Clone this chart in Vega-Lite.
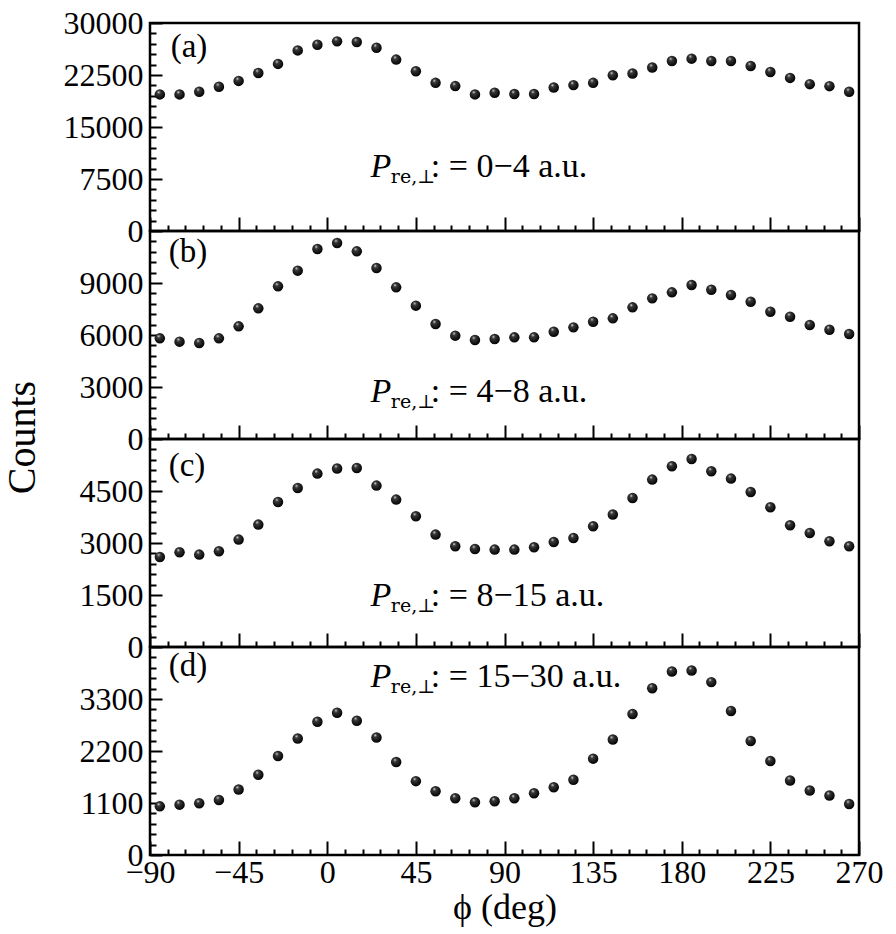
{
"$schema": "https://vega.github.io/schema/vega-lite/v6.json",
"padding": {"left": 0, "top": 5, "right": 5, "bottom": 5},
"bounds": "flush",
"spacing": 0,
"config": {
  "font": "Liberation Serif",
  "view": {"stroke": "black", "strokeWidth": 2.5},
  "axis": {"domain": false, "grid": false, "tickColor": "black", "tickWidth": 2, "labelFont": "Liberation Serif", "labelFontSize": 32, "labelColor": "black", "titleFont": "Liberation Serif", "titleColor": "black", "titleFontWeight": "normal", "labelFlush": false, "labelOverlap": false},
  "text": {"font": "Liberation Serif", "color": "black"}
},
"datasets": {
"counts": [
{"panel":"a","phi":-85,"counts":19700},{"panel":"a","phi":-75,"counts":19700},{"panel":"a","phi":-65,"counts":20080},{"panel":"a","phi":-55,"counts":20800},{"panel":"a","phi":-45,"counts":21650},{"panel":"a","phi":-35,"counts":22800},{"panel":"a","phi":-25,"counts":24100},{"panel":"a","phi":-15,"counts":26050},{"panel":"a","phi":-5,"counts":26870},{"panel":"a","phi":5,"counts":27350},{"panel":"a","phi":15,"counts":27250},{"panel":"a","phi":25,"counts":26440},{"panel":"a","phi":35,"counts":24720},{"panel":"a","phi":45,"counts":23040},{"panel":"a","phi":55,"counts":21370},{"panel":"a","phi":65,"counts":20900},{"panel":"a","phi":75,"counts":19700},{"panel":"a","phi":85,"counts":19940},{"panel":"a","phi":95,"counts":19750},{"panel":"a","phi":105,"counts":19750},{"panel":"a","phi":115,"counts":20700},{"panel":"a","phi":125,"counts":21040},{"panel":"a","phi":135,"counts":21370},{"panel":"a","phi":145,"counts":22470},{"panel":"a","phi":155,"counts":22710},{"panel":"a","phi":165,"counts":23570},{"panel":"a","phi":175,"counts":24520},{"panel":"a","phi":185,"counts":24860},{"panel":"a","phi":195,"counts":24520},{"panel":"a","phi":205,"counts":24520},{"panel":"a","phi":215,"counts":23800},{"panel":"a","phi":225,"counts":22940},{"panel":"a","phi":235,"counts":22080},{"panel":"a","phi":245,"counts":21180},{"panel":"a","phi":255,"counts":20890},{"panel":"a","phi":265,"counts":20080},
{"panel":"b","phi":-85,"counts":5806},{"panel":"b","phi":-75,"counts":5616},{"panel":"b","phi":-65,"counts":5540},{"panel":"b","phi":-55,"counts":5806},{"panel":"b","phi":-45,"counts":6500},{"panel":"b","phi":-35,"counts":7537},{"panel":"b","phi":-25,"counts":8807},{"panel":"b","phi":-15,"counts":9713},{"panel":"b","phi":-5,"counts":10963},{"panel":"b","phi":5,"counts":11310},{"panel":"b","phi":15,"counts":10826},{"panel":"b","phi":25,"counts":9866},{"panel":"b","phi":35,"counts":8750},{"panel":"b","phi":45,"counts":7693},{"panel":"b","phi":55,"counts":6636},{"panel":"b","phi":65,"counts":5962},{"panel":"b","phi":75,"counts":5712},{"panel":"b","phi":85,"counts":5770},{"panel":"b","phi":95,"counts":5864},{"panel":"b","phi":105,"counts":5864},{"panel":"b","phi":115,"counts":6191},{"panel":"b","phi":125,"counts":6440},{"panel":"b","phi":135,"counts":6768},{"panel":"b","phi":145,"counts":6960},{"panel":"b","phi":155,"counts":7595},{"panel":"b","phi":165,"counts":8113},{"panel":"b","phi":175,"counts":8460},{"panel":"b","phi":185,"counts":8886},{"panel":"b","phi":195,"counts":8615},{"panel":"b","phi":205,"counts":8309},{"panel":"b","phi":215,"counts":7922},{"panel":"b","phi":225,"counts":7345},{"panel":"b","phi":235,"counts":7057},{"panel":"b","phi":245,"counts":6578},{"panel":"b","phi":255,"counts":6307},{"panel":"b","phi":265,"counts":6058},
{"panel":"c","phi":-85,"counts":2597},{"panel":"c","phi":-75,"counts":2732},{"panel":"c","phi":-65,"counts":2665},{"panel":"c","phi":-55,"counts":2761},{"panel":"c","phi":-45,"counts":3098},{"panel":"c","phi":-35,"counts":3531},{"panel":"c","phi":-25,"counts":4183},{"panel":"c","phi":-15,"counts":4587},{"panel":"c","phi":-5,"counts":5002},{"panel":"c","phi":5,"counts":5147},{"panel":"c","phi":15,"counts":5164},{"panel":"c","phi":25,"counts":4656},{"panel":"c","phi":35,"counts":4252},{"panel":"c","phi":45,"counts":3771},{"panel":"c","phi":55,"counts":3242},{"panel":"c","phi":65,"counts":2905},{"panel":"c","phi":75,"counts":2827},{"panel":"c","phi":85,"counts":2810},{"panel":"c","phi":95,"counts":2810},{"panel":"c","phi":105,"counts":2876},{"panel":"c","phi":115,"counts":3029},{"panel":"c","phi":125,"counts":3145},{"panel":"c","phi":135,"counts":3482},{"panel":"c","phi":145,"counts":3820},{"panel":"c","phi":155,"counts":4299},{"panel":"c","phi":165,"counts":4829},{"panel":"c","phi":175,"counts":5213},{"panel":"c","phi":185,"counts":5424},{"panel":"c","phi":195,"counts":5069},{"panel":"c","phi":205,"counts":4858},{"panel":"c","phi":215,"counts":4472},{"panel":"c","phi":225,"counts":4030},{"panel":"c","phi":235,"counts":3511},{"panel":"c","phi":245,"counts":3289},{"panel":"c","phi":255,"counts":3049},{"panel":"c","phi":265,"counts":2905},
{"panel":"d","phi":-85,"counts":1029},{"panel":"d","phi":-75,"counts":1065},{"panel":"d","phi":-65,"counts":1093},{"panel":"d","phi":-55,"counts":1165},{"panel":"d","phi":-45,"counts":1385},{"panel":"d","phi":-35,"counts":1697},{"panel":"d","phi":-25,"counts":2094},{"panel":"d","phi":-15,"counts":2464},{"panel":"d","phi":-5,"counts":2818},{"panel":"d","phi":5,"counts":3010},{"panel":"d","phi":15,"counts":2840},{"panel":"d","phi":25,"counts":2486},{"panel":"d","phi":35,"counts":1966},{"panel":"d","phi":45,"counts":1562},{"panel":"d","phi":55,"counts":1349},{"panel":"d","phi":65,"counts":1200},{"panel":"d","phi":75,"counts":1115},{"panel":"d","phi":85,"counts":1136},{"panel":"d","phi":95,"counts":1200},{"panel":"d","phi":105,"counts":1306},{"panel":"d","phi":115,"counts":1434},{"panel":"d","phi":125,"counts":1591},{"panel":"d","phi":135,"counts":2038},{"panel":"d","phi":145,"counts":2443},{"panel":"d","phi":155,"counts":2982},{"panel":"d","phi":165,"counts":3529},{"panel":"d","phi":175,"counts":3883},{"panel":"d","phi":185,"counts":3904},{"panel":"d","phi":195,"counts":3657},{"panel":"d","phi":205,"counts":3046},{"panel":"d","phi":215,"counts":2413},{"panel":"d","phi":225,"counts":1987},{"panel":"d","phi":235,"counts":1576},{"panel":"d","phi":245,"counts":1363},{"panel":"d","phi":255,"counts":1257},{"panel":"d","phi":265,"counts":1080}
]
},
"vconcat": [
{
 "width": 709, "height": 208,
 "layer": [
  {"data": {"name": "counts"}, "transform": [{"filter": "datum.panel === 'a'"}],
   "mark": {"type": "circle", "size": 110, "opacity": 1, "color": {"gradient": "radial", "x1": 0.38, "y1": 0.28, "r1": 0, "x2": 0.42, "y2": 0.4, "r2": 0.62, "stops": [{"offset": 0, "color": "#f0f0f0"}, {"offset": 0.25, "color": "#3a3a3a"}, {"offset": 1, "color": "#000000"}]}},
   "encoding": {
    "x": {"field": "phi", "type": "quantitative", "scale": {"domain": [-90, 270], "nice": false, "zero": false}, "axis": {"orient": "bottom", "values": [-90,-45,0,45,90,135,180,225,270], "tickSize": -14, "labels": false, "title": null}},
    "y": {"field": "counts", "type": "quantitative", "scale": {"domain": [0, 30000], "nice": false}, "axis": {"orient": "left", "values": [0,7500,15000,22500,30000], "format": "d", "tickSize": -12, "labelPadding": 19, "title": null}}
   }},
  {"data": {"name": "counts"}, "transform": [{"filter": "datum.panel === 'a'"}],
   "mark": {"type": "circle", "opacity": 0},
   "encoding": {
    "x": {"field": "phi", "type": "quantitative", "axis": {"orient": "bottom", "values": [-81,-72,-63,-54,-36,-27,-18,-9,9,18,27,36,54,63,72,81,99,108,117,126,144,153,162,171,189,198,207,216,234,243,252,261], "tickSize": -6, "labels": false, "title": null}},
    "y": {"field": "counts", "type": "quantitative", "axis": {"orient": "left", "values": [1500,3000,4500,6000,9000,10500,12000,13500,16500,18000,19500,21000,24000,25500,27000,28500], "tickSize": -6, "labels": false, "title": null}}
   }},
  {"data": {"values": [{"t": "(a)"}]}, "mark": {"type": "text", "align": "left", "baseline": "alphabetic", "fontSize": 33},
   "encoding": {"x": {"datum": -79.5, "type": "quantitative", "axis": null}, "y": {"datum": 25100, "type": "quantitative", "axis": null}, "text": {"field": "t"}}},
  {"data": {"values": [{"t": "P"}]}, "mark": {"type": "text", "align": "left", "baseline": "alphabetic", "fontSize": 34, "fontStyle": "italic"},
   "encoding": {"x": {"datum": 22, "type": "quantitative", "axis": null}, "y": {"datum": 7844, "type": "quantitative", "axis": null}, "text": {"field": "t"}}},
  {"data": {"values": [{"t": "re,⊥"}]}, "mark": {"type": "text", "align": "left", "baseline": "alphabetic", "fontSize": 19, "font": "DejaVu Serif"},
   "encoding": {"x": {"datum": 32.3, "type": "quantitative", "axis": null}, "y": {"datum": 6984, "type": "quantitative", "axis": null}, "text": {"field": "t"}}},
  {"data": {"values": [{"t": ": = 0−4  a.u."}]}, "mark": {"type": "text", "align": "left", "baseline": "alphabetic", "fontSize": 34},
   "encoding": {"x": {"datum": 52.6, "type": "quantitative", "axis": null}, "y": {"datum": 7844, "type": "quantitative", "axis": null}, "text": {"field": "t"}}}
 ],
 "resolve": {"axis": {"x": "independent", "y": "independent"}}
},
{
 "width": 709, "height": 208,
 "layer": [
  {"data": {"name": "counts"}, "transform": [{"filter": "datum.panel === 'b'"}],
   "mark": {"type": "circle", "size": 110, "opacity": 1, "color": {"gradient": "radial", "x1": 0.38, "y1": 0.28, "r1": 0, "x2": 0.42, "y2": 0.4, "r2": 0.62, "stops": [{"offset": 0, "color": "#f0f0f0"}, {"offset": 0.25, "color": "#3a3a3a"}, {"offset": 1, "color": "#000000"}]}},
   "encoding": {
    "x": {"field": "phi", "type": "quantitative", "scale": {"domain": [-90, 270], "nice": false, "zero": false}, "axis": {"orient": "bottom", "values": [-90,-45,0,45,90,135,180,225,270], "tickSize": -14, "labels": false, "title": null}},
    "y": {"field": "counts", "type": "quantitative", "scale": {"domain": [0, 12000], "nice": false}, "axis": {"orient": "left", "values": [0,3000,6000,9000], "format": "d", "tickSize": -12, "labelPadding": 19, "title": "Counts", "titleFontSize": 40, "titleX": -116, "titleY": 206, "titleAngle": -90, "titleBaseline": "alphabetic", "titleAlign": "center"}}
   }},
  {"data": {"name": "counts"}, "transform": [{"filter": "datum.panel === 'b'"}],
   "mark": {"type": "circle", "opacity": 0},
   "encoding": {
    "x": {"field": "phi", "type": "quantitative", "axis": {"orient": "bottom", "values": [-81,-72,-63,-54,-36,-27,-18,-9,9,18,27,36,54,63,72,81,99,108,117,126,144,153,162,171,189,198,207,216,234,243,252,261], "tickSize": -6, "labels": false, "title": null}},
    "y": {"field": "counts", "type": "quantitative", "axis": {"orient": "left", "values": [600,1200,1800,2400,3600,4200,4800,5400,6600,7200,7800,8400,9600,10200,10800,11400], "tickSize": -6, "labels": false, "title": null}}
   }},
  {"data": {"values": [{"t": "(b)"}]}, "mark": {"type": "text", "align": "left", "baseline": "alphabetic", "fontSize": 33},
   "encoding": {"x": {"datum": -80.5, "type": "quantitative", "axis": null}, "y": {"datum": 10190, "type": "quantitative", "axis": null}, "text": {"field": "t"}}},
  {"data": {"values": [{"t": "P"}]}, "mark": {"type": "text", "align": "left", "baseline": "alphabetic", "fontSize": 34, "fontStyle": "italic"},
   "encoding": {"x": {"datum": 22, "type": "quantitative", "axis": null}, "y": {"datum": 2152, "type": "quantitative", "axis": null}, "text": {"field": "t"}}},
  {"data": {"values": [{"t": "re,⊥"}]}, "mark": {"type": "text", "align": "left", "baseline": "alphabetic", "fontSize": 19, "font": "DejaVu Serif"},
   "encoding": {"x": {"datum": 32.3, "type": "quantitative", "axis": null}, "y": {"datum": 1806, "type": "quantitative", "axis": null}, "text": {"field": "t"}}},
  {"data": {"values": [{"t": ": = 4−8  a.u."}]}, "mark": {"type": "text", "align": "left", "baseline": "alphabetic", "fontSize": 34},
   "encoding": {"x": {"datum": 52.6, "type": "quantitative", "axis": null}, "y": {"datum": 2152, "type": "quantitative", "axis": null}, "text": {"field": "t"}}}
 ],
 "resolve": {"axis": {"x": "independent", "y": "independent"}}
},
{
 "width": 709, "height": 208,
 "layer": [
  {"data": {"name": "counts"}, "transform": [{"filter": "datum.panel === 'c'"}],
   "mark": {"type": "circle", "size": 110, "opacity": 1, "color": {"gradient": "radial", "x1": 0.38, "y1": 0.28, "r1": 0, "x2": 0.42, "y2": 0.4, "r2": 0.62, "stops": [{"offset": 0, "color": "#f0f0f0"}, {"offset": 0.25, "color": "#3a3a3a"}, {"offset": 1, "color": "#000000"}]}},
   "encoding": {
    "x": {"field": "phi", "type": "quantitative", "scale": {"domain": [-90, 270], "nice": false, "zero": false}, "axis": {"orient": "bottom", "values": [-90,-45,0,45,90,135,180,225,270], "tickSize": -14, "labels": false, "title": null}},
    "y": {"field": "counts", "type": "quantitative", "scale": {"domain": [0, 6000], "nice": false}, "axis": {"orient": "left", "values": [0,1500,3000,4500], "format": "d", "tickSize": -12, "labelPadding": 19, "title": null}}
   }},
  {"data": {"name": "counts"}, "transform": [{"filter": "datum.panel === 'c'"}],
   "mark": {"type": "circle", "opacity": 0},
   "encoding": {
    "x": {"field": "phi", "type": "quantitative", "axis": {"orient": "bottom", "values": [-81,-72,-63,-54,-36,-27,-18,-9,9,18,27,36,54,63,72,81,99,108,117,126,144,153,162,171,189,198,207,216,234,243,252,261], "tickSize": -6, "labels": false, "title": null}},
    "y": {"field": "counts", "type": "quantitative", "axis": {"orient": "left", "values": [300,600,900,1200,1800,2100,2400,2700,3300,3600,3900,4200,4800,5100,5400,5700], "tickSize": -6, "labels": false, "title": null}}
   }},
  {"data": {"values": [{"t": "(c)"}]}, "mark": {"type": "text", "align": "left", "baseline": "alphabetic", "fontSize": 33},
   "encoding": {"x": {"datum": -80.5, "type": "quantitative", "axis": null}, "y": {"datum": 4945, "type": "quantitative", "axis": null}, "text": {"field": "t"}}},
  {"data": {"values": [{"t": "P"}]}, "mark": {"type": "text", "align": "left", "baseline": "alphabetic", "fontSize": 34, "fontStyle": "italic"},
   "encoding": {"x": {"datum": 22, "type": "quantitative", "axis": null}, "y": {"datum": 1174, "type": "quantitative", "axis": null}, "text": {"field": "t"}}},
  {"data": {"values": [{"t": "re,⊥"}]}, "mark": {"type": "text", "align": "left", "baseline": "alphabetic", "fontSize": 19, "font": "DejaVu Serif"},
   "encoding": {"x": {"datum": 32.3, "type": "quantitative", "axis": null}, "y": {"datum": 1001, "type": "quantitative", "axis": null}, "text": {"field": "t"}}},
  {"data": {"values": [{"t": ": = 8−15  a.u."}]}, "mark": {"type": "text", "align": "left", "baseline": "alphabetic", "fontSize": 34},
   "encoding": {"x": {"datum": 52.6, "type": "quantitative", "axis": null}, "y": {"datum": 1174, "type": "quantitative", "axis": null}, "text": {"field": "t"}}}
 ],
 "resolve": {"axis": {"x": "independent", "y": "independent"}}
},
{
 "width": 709, "height": 208,
 "layer": [
  {"data": {"name": "counts"}, "transform": [{"filter": "datum.panel === 'd'"}],
   "mark": {"type": "circle", "size": 110, "opacity": 1, "color": {"gradient": "radial", "x1": 0.38, "y1": 0.28, "r1": 0, "x2": 0.42, "y2": 0.4, "r2": 0.62, "stops": [{"offset": 0, "color": "#f0f0f0"}, {"offset": 0.25, "color": "#3a3a3a"}, {"offset": 1, "color": "#000000"}]}},
   "encoding": {
    "x": {"field": "phi", "type": "quantitative", "scale": {"domain": [-90, 270], "nice": false, "zero": false}, "axis": {"orient": "bottom", "values": [-90,-45,0,45,90,135,180,225,270], "format": "d", "tickSize": -14, "labelPadding": 16, "title": "ϕ  (deg)", "titleFontSize": 36, "titlePadding": 2}},
    "y": {"field": "counts", "type": "quantitative", "scale": {"domain": [0, 4400], "nice": false}, "axis": {"orient": "left", "values": [0,1100,2200,3300], "format": "d", "tickSize": -12, "labelPadding": 19, "title": null}}
   }},
  {"data": {"name": "counts"}, "transform": [{"filter": "datum.panel === 'd'"}],
   "mark": {"type": "circle", "opacity": 0},
   "encoding": {
    "x": {"field": "phi", "type": "quantitative", "axis": {"orient": "bottom", "values": [-81,-72,-63,-54,-36,-27,-18,-9,9,18,27,36,54,63,72,81,99,108,117,126,144,153,162,171,189,198,207,216,234,243,252,261], "tickSize": -6, "labels": false, "title": null}},
    "y": {"field": "counts", "type": "quantitative", "axis": {"orient": "left", "values": [220,440,660,880,1320,1540,1760,1980,2420,2640,2860,3080,3520,3740,3960,4180], "tickSize": -6, "labels": false, "title": null}}
   }},
  {"data": {"values": [{"t": "(d)"}]}, "mark": {"type": "text", "align": "left", "baseline": "alphabetic", "fontSize": 33},
   "encoding": {"x": {"datum": -80.5, "type": "quantitative", "axis": null}, "y": {"datum": 3777, "type": "quantitative", "axis": null}, "text": {"field": "t"}}},
  {"data": {"values": [{"t": "P"}]}, "mark": {"type": "text", "align": "left", "baseline": "alphabetic", "fontSize": 34, "fontStyle": "italic"},
   "encoding": {"x": {"datum": 22, "type": "quantitative", "axis": null}, "y": {"datum": 3563, "type": "quantitative", "axis": null}, "text": {"field": "t"}}},
  {"data": {"values": [{"t": "re,⊥"}]}, "mark": {"type": "text", "align": "left", "baseline": "alphabetic", "fontSize": 19, "font": "DejaVu Serif"},
   "encoding": {"x": {"datum": 32.3, "type": "quantitative", "axis": null}, "y": {"datum": 3436, "type": "quantitative", "axis": null}, "text": {"field": "t"}}},
  {"data": {"values": [{"t": ": = 15−30  a.u."}]}, "mark": {"type": "text", "align": "left", "baseline": "alphabetic", "fontSize": 34},
   "encoding": {"x": {"datum": 52.6, "type": "quantitative", "axis": null}, "y": {"datum": 3563, "type": "quantitative", "axis": null}, "text": {"field": "t"}}}
 ],
 "resolve": {"axis": {"x": "independent", "y": "independent"}}
}
]
}
